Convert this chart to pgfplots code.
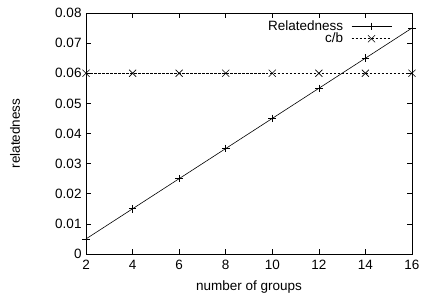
\documentclass[border=0pt]{standalone}
\usepackage{pgfplots}
\pgfplotsset{compat=1.18}
\usepackage{fontspec}
\setmainfont{Liberation Sans}
\begin{document}
\begin{tikzpicture}
\begin{axis}[
  scale only axis,
  width=326pt, height=241pt,
  xmin=2, xmax=16, ymin=0, ymax=0.08,
  xtick={2,4,...,16},
  ytick={0,0.01,...,0.08},
  yticklabel style={/pgf/number format/fixed,/pgf/number format/precision=2, xshift=-1pt},
  xticklabel style={yshift=-3pt},
  scaled y ticks=false,
  /pgf/number format/assume math mode=true,
  tick align=inside,
  tick pos=both,
  major tick length=4.5pt,
  tick style={black, line width=0.6pt},
  axis line style={line width=0.8pt},
  font=\fontsize{13.5}{15}\selectfont,
  xlabel={number of groups},
  ylabel={relatedness},
  xlabel style={at={(axis description cs:0.5,-0.137)}, anchor=center},
  ylabel style={at={(axis description cs:-0.218,0.5)}, anchor=center},
  legend style={draw=none, fill=none, legend cell align=right, font=\fontsize{13.5}{14}\selectfont, row sep=-3pt, column sep=6pt, at={(axis description cs:0.948,0.985)}, anchor=north east},
  legend plot pos=right,
  legend image code/.code={
    \draw[mark repeat=2,mark phase=2,#1] plot coordinates {(0pt,0pt) (20pt,0pt) (40pt,0pt)};
  },
  clip=false,
]
\addplot[black, line width=0.6pt, mark=+, mark size=3.8pt, mark options={solid}] coordinates {
(2,0.005) (4,0.015) (6,0.025) (8,0.035) (10,0.045) (12,0.055) (14,0.065) (16,0.075)};
\addlegendentry{Relatedness}
\addplot[black, line width=0.6pt, dash pattern=on 2.5pt off 1.5pt, mark=x, mark size=5pt, mark options={solid}] coordinates {
(2,0.06) (4,0.06) (6,0.06) (8,0.06) (10,0.06) (12,0.06) (14,0.06) (16,0.06)};
\addlegendentry{c/b}
\path (axis description cs:-0.264,-0.195) rectangle (axis description cs:1.04,1.054);
\end{axis}
\end{tikzpicture}
\end{document}
